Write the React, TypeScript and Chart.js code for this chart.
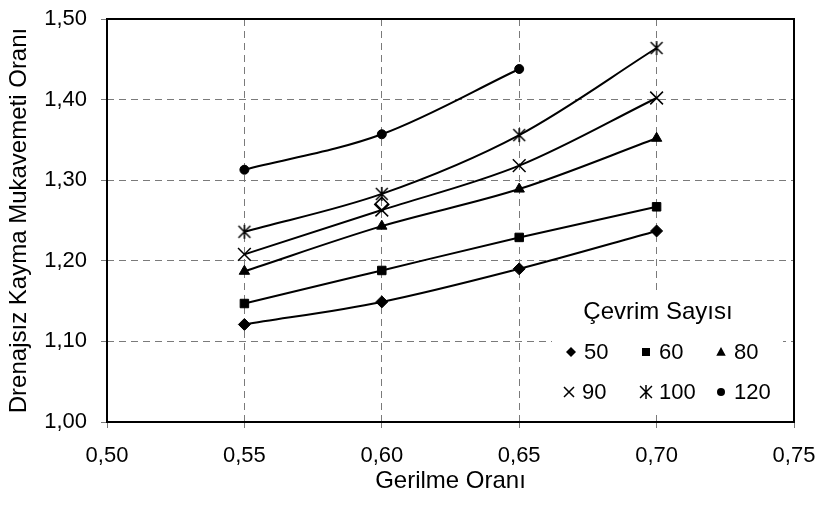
import React, { useEffect, useRef } from 'react';
import { Chart, registerables } from 'chart.js';

Chart.register(...registerables);

// ---- Data ----
const xValues = [0.55, 0.6, 0.65, 0.7];
const series50 = [1.121, 1.149, 1.19, 1.237];
const series60 = [1.147, 1.188, 1.229, 1.267];
const series80 = [1.187, 1.243, 1.289, 1.352];
const series90 = [1.208, 1.263, 1.318, 1.402];
const series100 = [1.236, 1.283, 1.356, 1.464];
const series120 = [1.313, 1.357, 1.438];
const extraX = [0.6];
const extraY = [1.27];
const seriesLabels = ['50', '60', '80', '90', '100', '120'];
const xTickValues = [0.5, 0.55, 0.6, 0.65, 0.7, 0.75];
const yTickValues = [1.0, 1.1, 1.2, 1.3, 1.4, 1.5];
const legendTitle = 'Çevrim Sayısı';
const xTitle = 'Gerilme Oranı';
const yTitle = 'Drenajsız Kayma Mukavemeti Oranı';

const FONT = '"Liberation Sans", Arial, sans-serif';
const fmt = (v: number) => v.toFixed(2).replace('.', ',');

type Sym = 'diamond' | 'square' | 'triangle' | 'x' | 'asterisk' | 'circle';

function drawSym(ctx: CanvasRenderingContext2D, s: Sym, x: number, y: number, r: number) {
  ctx.save();
  ctx.fillStyle = '#000';
  ctx.strokeStyle = '#000';
  ctx.lineWidth = 1.5;
  ctx.beginPath();
  if (s === 'diamond') {
    ctx.moveTo(x, y - r); ctx.lineTo(x + r, y); ctx.lineTo(x, y + r); ctx.lineTo(x - r, y); ctx.closePath(); ctx.fill();
  } else if (s === 'square') {
    ctx.rect(x - r, y - r, 2 * r, 2 * r); ctx.fill();
  } else if (s === 'triangle') {
    ctx.moveTo(x, y - r); ctx.lineTo(x + r * 0.95, y + r * 0.75); ctx.lineTo(x - r * 0.95, y + r * 0.75); ctx.closePath(); ctx.fill();
  } else if (s === 'x') {
    ctx.moveTo(x - r, y - r); ctx.lineTo(x + r, y + r); ctx.moveTo(x + r, y - r); ctx.lineTo(x - r, y + r); ctx.stroke();
  } else if (s === 'asterisk') {
    ctx.moveTo(x - r * 0.85, y - r * 0.85); ctx.lineTo(x + r * 0.85, y + r * 0.85);
    ctx.moveTo(x + r * 0.85, y - r * 0.85); ctx.lineTo(x - r * 0.85, y + r * 0.85);
    ctx.moveTo(x, y - r); ctx.lineTo(x, y + r); ctx.stroke();
  } else {
    ctx.arc(x, y, r, 0, Math.PI * 2); ctx.fill();
  }
  ctx.restore();
}

function makeAsterisk(r: number) {
  const c = document.createElement('canvas');
  const size = Math.ceil(r * 2 + 4);
  c.width = size; c.height = size;
  const ctx = c.getContext('2d')!;
  drawSym(ctx, 'asterisk', size / 2, size / 2, r);
  return c;
}

// legend layout (offsets relative to chart area left / bottom)
const legendItems: { sym: Sym; sx: number; row: number; r: number }[] = [
  { sym: 'diamond', sx: 464, row: 0, r: 5 },
  { sym: 'square', sx: 539, row: 0, r: 4 },
  { sym: 'triangle', sx: 614, row: 0, r: 5 },
  { sym: 'x', sx: 462, row: 1, r: 5 },
  { sym: 'asterisk', sx: 539, row: 1, r: 7 },
  { sym: 'circle', sx: 614, row: 1, r: 4 },
];

const overlayPlugin = {
  id: 'overlay',
  afterDraw(chart: any) {
    const { ctx, chartArea: ca } = chart;
    const L = ca.left, B = ca.bottom;
    ctx.save();
    ctx.fillStyle = '#fff';
    ctx.fillRect(L + 445, B - 130, 231, 119);
    ctx.fillStyle = '#000';
    ctx.font = '24px ' + FONT;
    ctx.textBaseline = 'middle';
    ctx.textAlign = 'center';
    ctx.fillText(legendTitle, L + 551, B - 110);
    ctx.font = '22px ' + FONT;
    ctx.textAlign = 'left';
    legendItems.forEach((it, i) => {
      const y = B - 70 + it.row * 40;
      drawSym(ctx, it.sym, L + it.sx, y, it.r);
      ctx.fillStyle = '#000';
      ctx.fillText(seriesLabels[i], L + it.sx + 13, y + 1);
    });
    ctx.strokeStyle = '#000';
    ctx.lineWidth = 2;
    ctx.strokeRect(ca.left, ca.top, ca.right - ca.left, ca.bottom - ca.top);
    ctx.restore();
  },
};

export default function App() {
  const ref = useRef<HTMLCanvasElement | null>(null);
  useEffect(() => {
    document.body.style.margin = '0';
    const canvas = ref.current!;
    const mk = (ys: number[]) => ys.map((y, i) => ({ x: xValues[i], y }));
    const base = {
      showLine: true,
      borderColor: '#000',
      borderWidth: 2,
      cubicInterpolationMode: 'monotone' as const,
      pointBackgroundColor: '#000',
      pointBorderColor: '#000',
      pointBorderWidth: 1,
    };
    const chart = new Chart(canvas, {
      type: 'scatter',
      data: {
        datasets: [
          { ...base, label: seriesLabels[0], data: mk(series50), pointStyle: 'rectRot', pointRadius: 6 },
          { ...base, label: seriesLabels[1], data: mk(series60), pointStyle: 'rect', pointRadius: 6 },
          { ...base, label: seriesLabels[2], data: mk(series80), pointStyle: 'triangle', pointRadius: 6 },
          { ...base, label: seriesLabels[3], data: mk(series90), pointStyle: 'crossRot', pointRadius: 9, pointBorderWidth: 1.5 },
          { ...base, label: seriesLabels[4], data: mk(series100), pointStyle: makeAsterisk(7) as any, pointRadius: 7 },
          { ...base, label: seriesLabels[5], data: mk(series120), pointStyle: 'circle', pointRadius: 4.5 },
          {
            label: 'extra',
            data: extraX.map((x, i) => ({ x, y: extraY[i] })),
            showLine: false,
            pointStyle: 'rectRot',
            pointRadius: 7,
            pointBackgroundColor: 'rgba(0,0,0,0)',
            pointBorderColor: '#000',
            pointBorderWidth: 1.5,
          },
        ],
      },
      options: {
        animation: false,
        responsive: false,
        devicePixelRatio: 1,
        layout: { padding: { top: 19, right: 27, left: 0, bottom: 0 } },
        plugins: { legend: { display: false }, tooltip: { enabled: false } },
        scales: {
          x: {
            type: 'linear',
            min: 0.5,
            max: 0.75,
            afterBuildTicks: (s: any) => { s.ticks = xTickValues.map((v) => ({ value: v })); },
            afterFit: (s: any) => { s.height = 83; s.paddingLeft = 0; s.paddingRight = 0; },
            ticks: {
              callback: (v: any) => fmt(Number(v)),
              color: '#000',
              font: { family: FONT, size: 22 },
              padding: 15,
              maxRotation: 0,
              autoSkip: false,
            },
            grid: { color: '#7a7a7a', lineWidth: 1, tickLength: 6, tickBorderDash: [] } as any,
            border: { display: false, dash: [7, 5] },
            title: {
              display: true,
              text: xTitle,
              color: '#000',
              font: { family: FONT, size: 24 },
              padding: { top: 0, bottom: 9 },
            },
          },
          y: {
            type: 'linear',
            min: 1.0,
            max: 1.5,
            afterBuildTicks: (s: any) => { s.ticks = yTickValues.map((v) => ({ value: v })); },
            afterFit: (s: any) => { s.width = 107; s.paddingTop = 0; s.paddingBottom = 0; },
            ticks: {
              callback: (v: any) => fmt(Number(v)),
              color: '#000',
              font: { family: FONT, size: 22 },
              padding: 14,
              autoSkip: false,
            },
            grid: { color: '#7a7a7a', lineWidth: 1, tickLength: 6, tickBorderDash: [] } as any,
            border: { display: false, dash: [7, 5] },
            title: {
              display: true,
              text: yTitle,
              color: '#000',
              font: { family: FONT, size: 24 },
              padding: { top: 5, bottom: 0 },
            },
          },
        },
      },
      plugins: [overlayPlugin],
    });
    return () => chart.destroy();
  }, []);
  return (
    <div style={{ width: 821, height: 505, background: '#fff' }}>
      <canvas ref={ref} width={821} height={505} style={{ display: 'block' }} />
    </div>
  );
}
